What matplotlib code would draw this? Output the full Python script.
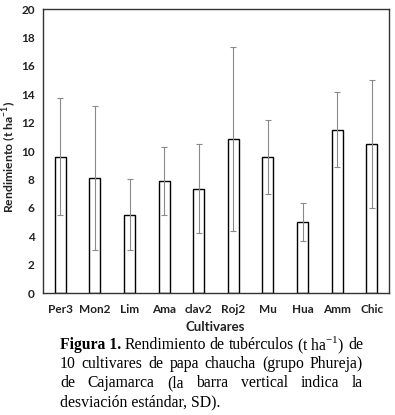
import matplotlib
matplotlib.use("Agg")
import matplotlib.pyplot as plt

cultivars = ["Per3", "Mon2", "Lim", "Ama", "clav2", "Roj2", "Mu", "Hua", "Amm", "Chic"]
yield_mean = [9.6, 8.1, 5.5, 7.9, 7.35, 10.85, 9.6, 5.0, 11.5, 10.5]
yield_sd = [4.1, 5.1, 2.5, 2.4, 3.15, 6.5, 2.6, 1.35, 2.65, 4.5]
y_ticks = [0, 2, 4, 6, 8, 10, 12, 14, 16, 18, 20]

plt.rcParams["mathtext.fontset"] = "custom"
plt.rcParams["mathtext.rm"] = "Liberation Serif"

W, H = 395, 415
fig = plt.figure(figsize=(W / 100, H / 100), dpi=100)
ax = fig.add_axes([43 / W, 1 - 293 / H, (389 - 43) / W, (293 - 9) / H])

x = list(range(len(cultivars)))
ax.bar(x, yield_mean, width=0.32, color="white", edgecolor="black", linewidth=1.0, zorder=2)
ax.errorbar(x, yield_mean, yerr=yield_sd, fmt="none", ecolor="#8a8a8a", elinewidth=0.8,
            capsize=2.5, capthick=0.8, zorder=3)

ax.set_xlim(-0.5, len(cultivars) - 0.5)
ax.set_ylim(0, 20)
ax.set_yticks(y_ticks)
ax.set_xticks(x)
ax.set_xticklabels(cultivars)
for s in ax.spines.values():
    s.set_color("#333333")
    s.set_linewidth(1.0)
ax.tick_params(length=0, labelsize=8.5, colors="#222222", pad=6)
for lab in ax.get_xticklabels() + ax.get_yticklabels():
    lab.set_fontfamily("Lato")
    lab.set_fontweight("bold")
ax.tick_params(axis="x", pad=8)

fig.text(10 / W, 1 - 157 / H, "Rendimiento (t ha$^{\\mathregular{-1}}$)", rotation=90, ha="center",
         va="center", fontsize=8.8, fontweight="bold", family="Lato", color="#222222")
fig.text(215 / W, 1 - 327 / H, "Cultivares", ha="center", va="center",
         fontsize=9.5, fontweight="bold", family="Lato", color="#222222")

# caption, justified
left, right = 60, 363
lines = [
    [("Figura 1.", "bold"), ("Rendimiento", "normal"), ("de", "normal"), ("tubérculos", "normal"),
     ("(t ha$^{\\mathregular{-1}}$)", "normal"), ("de", "normal")],
    [(w, "normal") for w in "10 cultivares de papa chaucha (grupo Phureja)".split()],
    [(w, "normal") for w in "de Cajamarca (la barra vertical indica la".split()],
]
ys = [345, 364, 383]
fig.canvas.draw()
r = fig.canvas.get_renderer()
fs = 11.3
for words, yy in zip(lines, ys):
    texts = [fig.text(0, 1 - yy / H, w, fontsize=fs, fontweight=wt, family="Liberation Serif",
                      va="center", ha="left") for w, wt in words]
    widths = [t.get_window_extent(r).width for t in texts]
    gap = (right - left - sum(widths)) / (len(texts) - 1)
    pos = left
    for t, w in zip(texts, widths):
        t.set_x(pos / W)
        pos += w + gap
fig.text(left / W, 1 - 402 / H, "desviación estándar, SD).", fontsize=fs, family="Liberation Serif",
         va="center", ha="left")

fig.savefig("out.png", dpi=100)
